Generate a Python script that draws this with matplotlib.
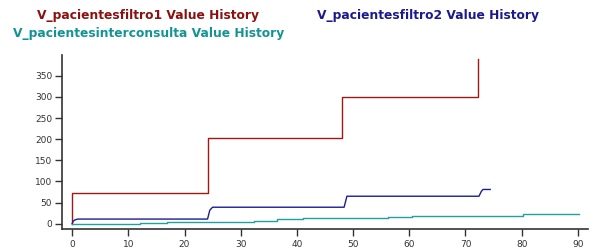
import matplotlib
matplotlib.use("Agg")
import matplotlib.pyplot as plt

# value histories
filtro1_x = [0, 0, 24.1, 48.0, 72.2]
filtro1_y = [0, 72, 203, 299, 389]

filtro2_x = [0, 0.2, 0.5, 1.0, 24.1, 24.5, 25.0, 48.4, 48.9, 72.4, 72.8, 73.1, 74.4]
filtro2_y = [0, 6, 9, 11, 11, 32, 39, 39, 65, 65, 76, 81, 81]

inter_x = [0, 12.0, 16.9, 32.3, 36.4, 41.1, 56.2, 60.5, 80.2, 89.6, 90.2]
inter_y = [0, 1, 4, 7, 10, 13, 16, 19, 22, 24, 24]

x_ticks = list(range(0, 91, 10))
y_ticks = list(range(0, 351, 50))

titles = [
    ("V_pacientesfiltro1 Value History", "#8b1010", 148, 16),
    ("V_pacientesfiltro2 Value History", "#1a1a8c", 428, 16),
    ("V_pacientesinterconsulta Value History", "#139494", 149, 33),
]

W, H = 601, 250
fig = plt.figure(figsize=(W / 100, H / 100), dpi=100)
ax = fig.add_axes([62 / W, 1 - 229 / H, (588 - 62) / W, (229 - 55) / H])

ax.step(filtro1_x, filtro1_y, where="post", color="#a01818", lw=1.0)
ax.plot(filtro2_x, filtro2_y, color="#1c1c96", lw=1.0)
ax.step(inter_x, inter_y, where="post", color="#20a0a0", lw=1.0)

ax.set_xlim(-1.8, 91.8)
ax.set_ylim(-12.5, 399)
ax.set_xticks(x_ticks)
ax.set_yticks(y_ticks)

for side in ("top", "right"):
    ax.spines[side].set_visible(False)
for side in ("left", "bottom"):
    ax.spines[side].set_color("#333333")
    ax.spines[side].set_linewidth(1.2)
ax.tick_params(axis="both", length=5, width=1.0, color="#333333",
               labelsize=6.5, labelcolor="#333333", pad=2)
ax.tick_params(axis="x", pad=3)

for text, color, cx, cy in titles:
    fig.text(cx / W, 1 - cy / H, text, color=color, fontsize=8.8,
             fontweight="bold", ha="center", va="center")

fig.savefig("out.png", dpi=100)
